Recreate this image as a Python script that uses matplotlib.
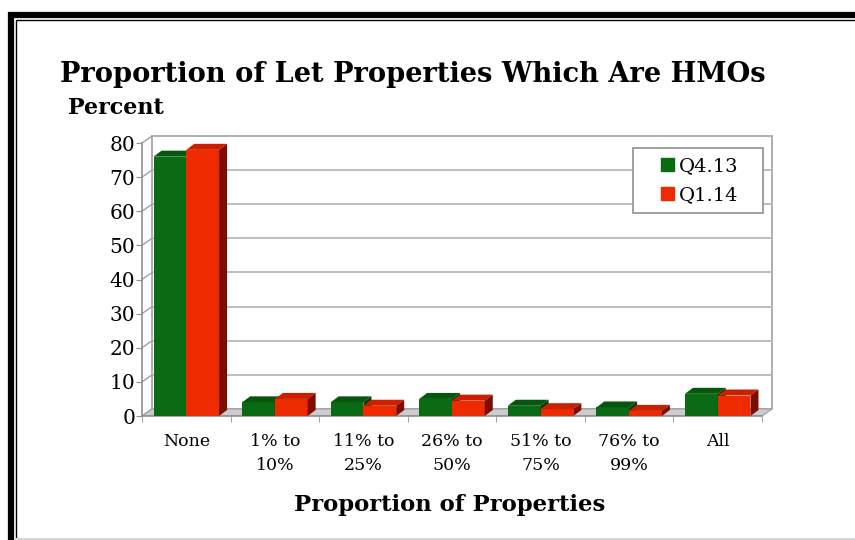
import matplotlib
matplotlib.use("Agg")
import matplotlib.pyplot as plt
from matplotlib.patches import Polygon, Rectangle, Patch

categories = ["None", "1% to\n10%", "11% to\n25%", "26% to\n50%",
              "51% to\n75%", "76% to\n99%", "All"]
q4_13 = [76, 4, 4, 5, 3, 2.5, 6.5]
q1_14 = [78, 5, 3, 4.5, 2, 1.5, 6]
yticks = [0, 10, 20, 30, 40, 50, 60, 70, 80]

W, H = 855, 540
GREEN, GREEN_TOP, GREEN_SIDE = "#0b6b14", "#07560e", "#043d08"
RED, RED_TOP, RED_SIDE = "#ee2a00", "#c82000", "#7e0c00"

plt.rcParams["font.family"] = ["DejaVu Serif"]

fig = plt.figure(figsize=(W / 100, H / 100), dpi=100)


def fig_line(xs, ys, **kw):
    # xs, ys in pixels from the top-left corner
    fig.lines.append(plt.Line2D([x / W for x in xs], [1 - y / H for y in ys],
                                transform=fig.transFigure, **kw))


# frame round the chart: thick outer line, thin inner line, grey bottom edge
fig_line([10.5, 10.5, W], [H, 14.5, 14.5], color="black", lw=4.5, solid_joinstyle="miter")
fig_line([15.5, 15.5, W], [H, 19.5, 19.5], color="black", lw=1.0, solid_joinstyle="miter")
fig_line([16, W], [539, 539], color="#d8d8d8", lw=1.5)

ax = fig.add_axes([142 / W, (H - 416) / H, 630 / W, 280 / H])
n = len(categories)
ddx, ddy = 10 / 88.5, 7 / 3.41      # depth of walls, in data units
bdx, bdy = 8 / 88.5, 6 / 3.41       # depth of bars
ax.set_xlim(-0.5, n - 0.5 + ddx)
ax.set_ylim(0, 80 + ddy)

# back wall and gridlines
x0, x1 = -0.5 + ddx, n - 0.5 + ddx
ax.add_patch(Rectangle((x0, ddy), x1 - x0, 80, facecolor="white",
                       edgecolor="#a8a8a8", lw=1.3, clip_on=False, zorder=0))
for v in yticks[1:-1]:
    ax.plot([x0, x1], [v + ddy, v + ddy], color="#b8b8b8", lw=1.3, zorder=1)
# left wall diagonals
for v in yticks:
    ax.plot([-0.5, x0], [v, v + ddy], color="#a0a0a0", lw=1.0, zorder=1, clip_on=False)
# floor
ax.add_patch(Polygon([(-0.5, 0), (n - 0.5, 0), (x1, ddy), (x0, ddy)],
                     facecolor="#cccccc", edgecolor="#a0a0a0", lw=0.8, zorder=1))

bw = 0.37
for i in range(n):
    for off, v, cf, ct, cs in [(-bw, q4_13[i], GREEN, GREEN_TOP, GREEN_SIDE),
                               (0, q1_14[i], RED, RED_TOP, RED_SIDE)]:
        l, r = i + off, i + off + bw
        ax.bar(l, v, width=bw, align="edge", color=cf, zorder=3)
        ax.add_patch(Polygon([(l, v), (r, v), (r + bdx, v + bdy), (l + bdx, v + bdy)],
                             facecolor=ct, edgecolor="none", zorder=3))
        ax.add_patch(Polygon([(r, 0), (r, v), (r + bdx, v + bdy), (r + bdx, bdy)],
                             facecolor=cs, edgecolor="none", zorder=3))

for s in ["top", "right"]:
    ax.spines[s].set_visible(False)
ax.spines["left"].set_bounds(0, 80)
ax.spines["bottom"].set_bounds(-0.5, n - 0.5)
for s in ["left", "bottom"]:
    ax.spines[s].set_color("#909090")
    ax.spines[s].set_linewidth(1.2)
ax.set_yticks(yticks)
ax.set_yticklabels([str(v) for v in yticks], fontsize=14.5)
ax.set_xticks(range(n))
ax.set_xticklabels(categories, fontsize=12.5, linespacing=1.6)
ax.set_xticks([k - 0.5 for k in range(n + 1)], minor=True)
ax.tick_params(axis="x", which="major", length=0, pad=12)
ax.tick_params(axis="x", which="minor", length=4, color="#909090")
ax.tick_params(axis="y", length=4, color="#909090", pad=1)
ax.patch.set_visible(False)

# legend: box drawn separately, entries centred in it
ax.add_patch(Rectangle((633 / W, 1 - 213 / H), 130 / W, 65 / H,
                       transform=fig.transFigure, facecolor="white",
                       edgecolor="#909090", lw=1.2, zorder=5, clip_on=False))
leg = ax.legend(handles=[Patch(color=GREEN, label="Q4.13"), Patch(color=RED, label="Q1.14")],
                loc="center", bbox_to_anchor=(700 / W, 1 - 180.5 / H),
                bbox_transform=fig.transFigure, frameon=False,
                fontsize=14, handlelength=0.65, handleheight=0.65, handletextpad=0.25,
                borderpad=0, labelspacing=0.55)
leg.set_zorder(6)

fig.text(60 / W, 1 - 75 / H, "Proportion of Let Properties Which Are HMOs",
         fontsize=19.6, fontweight="bold", ha="left", va="center")
fig.text(68 / W, 1 - 108 / H, "Percent", fontsize=16, fontweight="bold",
         ha="left", va="center")
fig.text(450 / W, 1 - 505 / H, "Proportion of Properties", fontsize=16.4,
         fontweight="bold", ha="center", va="center")

fig.savefig("out.png", dpi=100)
